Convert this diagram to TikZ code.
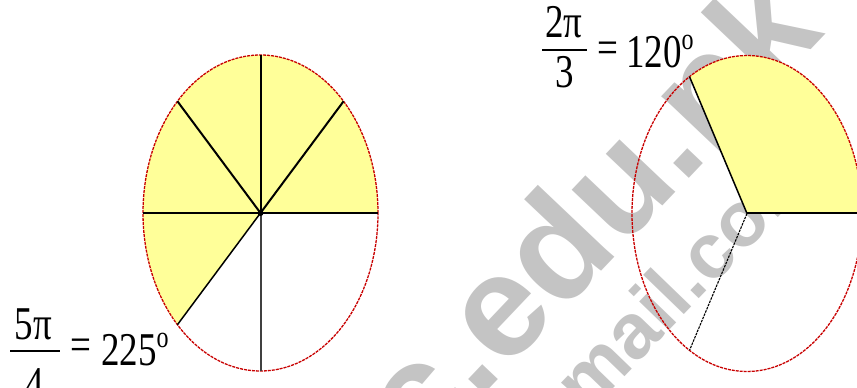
\documentclass[tikz,border=0pt]{standalone}
\usepackage{fontspec}
\setmainfont{Liberation Serif}
\newfontfamily\wmfont{Liberation Sans}
\definecolor{fillyellow}{RGB}{255,255,153}
\definecolor{rimred}{RGB}{200,0,0}
\definecolor{wmgray}{RGB}{196,196,196}
\tikzset{
  rim/.style={draw=rimred, line width=1.3pt, dash pattern=on 3pt off 1pt},
  sector/.style={fill=fillyellow},
  spoke/.style={draw=black, line width=2pt},
  thinspoke/.style={draw=black, line width=1.5pt},
  greyspoke/.style={draw=black!75, line width=2pt},
  dashspoke/.style={draw=black, line width=1.1pt, dash pattern=on 2.5pt off 1pt},
  fracbar/.style={draw=black, line width=1.8pt},
  lbl/.style={inner sep=0pt, font=\fontsize{37}{38}\selectfont},
  wm/.style={text=wmgray, inner sep=0pt, font=\wmfont\bfseries\fontsize{145}{150}\selectfont},
  wmsmall/.style={text=wmgray, inner sep=0pt, font=\wmfont\bfseries\fontsize{78}{80}\selectfont},
}
\newcommand{\stretched}[1]{\scalebox{1}[1.27]{#1}}
\newcommand{\degsup}{\raisebox{0.40em}{\fontsize{24}{24}\selectfont o}}
\begin{document}
\begin{tikzpicture}[x=1pt,y=1pt]
\useasboundingbox (0,0) rectangle (857,388);
\begin{scope}
\clip (0,0) rectangle (857,388);
% watermark
\node[wm, rotate=46.5, anchor=base] (wm1) at (624,141) {c.edu.pk};
\node[wmsmall, rotate=46, anchor=base] (wm2) at (662,50) {@gmail.com};

% ---------- left ellipse ----------
\coordinate (L) at (260.5,175);
\path (L) ++(0:117.5 and 158) coordinate (L0);
\path (L) ++(45:117.5 and 158) coordinate (L45);
\path (L) ++(90:117.5 and 158) coordinate (L90);
\path (L) ++(135:117.5 and 158) coordinate (L135);
\path (L) ++(180:117.5 and 158) coordinate (L180);
\path (L) ++(225:117.5 and 158) coordinate (L225);
\path (L) ++(270:117.5 and 158) coordinate (L270);
\fill[sector] (L) -- (L0) arc[start angle=0, end angle=225, x radius=117.5, y radius=158] -- cycle;
\draw[rim] (L) ellipse [x radius=117.5, y radius=158];
\draw[spoke] (L180) -- (L0);
\draw[spoke] (L) -- (L90);
\draw[spoke] (L) -- (L45);
\draw[spoke] (L) -- (L135);
\draw[thinspoke] (L) -- (L225);
\draw[greyspoke] (L) -- (L270);
\fill (L) circle (3);

% ---------- right ellipse ----------
\coordinate (R) at (747,174.5);
\path (R) ++(0:115 and 158) coordinate (R0);
\path (R) ++(120:115 and 158) coordinate (R120);
\path (R) ++(240:115 and 158) coordinate (R240);
\fill[sector] (R) -- (R0) arc[start angle=0, end angle=120, x radius=115, y radius=158] -- cycle;
\draw[rim] (R) ellipse [x radius=115, y radius=158];
\draw[spoke] (R) -- (R0);
\draw[thinspoke] (R) -- (R120);
\draw[dashspoke] (R) -- (R240);

% ---------- left label ----------
\node[lbl, anchor=base] (n1) at (33.5,48) {\stretched{5π}};
\coordinate (b1l) at (10,37);
\coordinate (b1r) at (60,37);
\draw[fracbar] (b1l) -- (b1r);
\node[lbl, anchor=base] (d1) at (35,-12) {\stretched{4}};
\node[lbl] (e1) at (81,38) {\stretched{=}};
\node[lbl, anchor=base west] (v1) at (101,22) {\stretched{225\degsup}};

% ---------- right label ----------
\node[lbl, anchor=base] (n2) at (564,350) {\stretched{2π}};
\coordinate (b2l) at (542,338);
\coordinate (b2r) at (587,338);
\draw[fracbar] (b2l) -- (b2r);
\node[lbl, anchor=base] (d2) at (565,300) {\stretched{3}};
\node[lbl] (e2) at (607.5,335) {\stretched{=}};
\node[lbl, anchor=base west] (v2) at (626,320) {\stretched{120\degsup}};
\end{scope}
\end{tikzpicture}
\end{document}
